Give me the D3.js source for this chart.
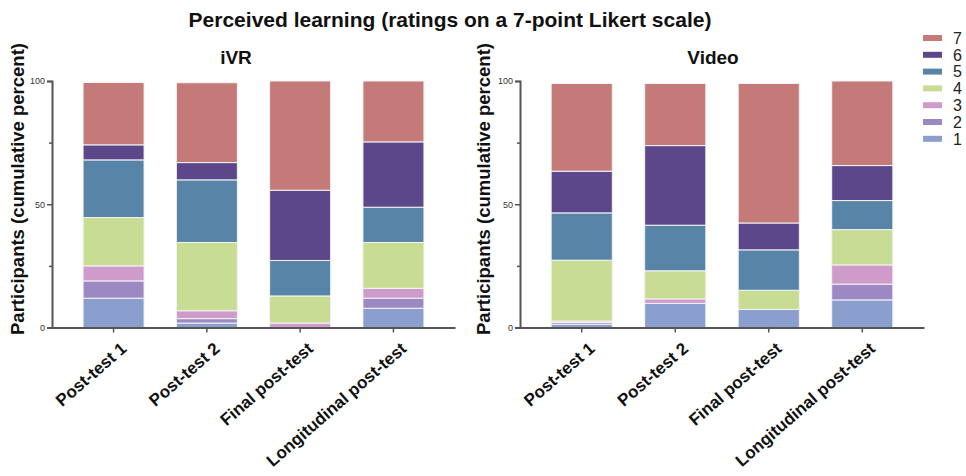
<!DOCTYPE html>
<html><head><meta charset="utf-8">
<script src="https://cdn.jsdelivr.net/npm/d3@7"></script>
<style>
html,body{margin:0;padding:0;background:#fff;}
svg{display:block;font-family:"Liberation Sans",Arial,Helvetica,sans-serif;}
</style></head>
<body>
<svg id="chart" width="966" height="476"></svg>
<script>
const categories = ["Post-test 1", "Post-test 2", "Final post-test", "Longitudinal post-test"];
const ratings = ["1", "2", "3", "4", "5", "6", "7"];
const colors = ["#8a9fcd", "#9c89c4", "#cf9bca", "#c8dc93", "#5884a8", "#5c478b", "#c57a7a"];
// percent of participants per rating (1..7) for each test
const ivrValues = [
  [11.9, 7.0, 6.1, 19.6, 23.4, 6.1, 25.3],
  [1.8, 1.8, 3.2, 27.7, 25.4, 7.0, 32.4],
  [0, 0, 1.8, 11.0, 14.4, 28.5, 44.3],
  [7.8, 4.1, 4.0, 18.6, 14.3, 26.5, 24.7]
];
const videoValues = [
  [1.3, 0.7, 0.6, 24.7, 19.2, 16.9, 35.6],
  [9.8, 0, 1.8, 11.4, 18.5, 32.3, 25.2],
  [7.3, 0, 0, 7.8, 16.4, 10.9, 56.6],
  [11.2, 6.4, 7.8, 14.3, 11.8, 14.2, 34.3]
];
const yTicks = [0, 50, 100];
const yMinorTicks = [25, 75];

const svg = d3.select("#chart");

svg.append("text").attr("x", 450).attr("y", 27).attr("text-anchor", "middle")
  .attr("font-size", 21).attr("font-weight", "bold").attr("fill", "#111")
  .text("Perceived learning (ratings on a 7-point Likert scale)");

function panel(x0, x1, title, titleX, values, labelX) {
  const y = d3.scaleLinear().domain([0, 100]).range([327.5, 81]);
  const x = d3.scaleBand().domain(categories).range([x0, x1]).paddingInner(0.346).paddingOuter(0.333);
  const g = svg.append("g");

  g.append("text").attr("x", titleX).attr("y", 64).attr("text-anchor", "middle")
    .attr("font-size", 19).attr("font-weight", "bold").attr("fill", "#111").text(title);

  g.append("text").attr("transform", `translate(${labelX},189) rotate(-90)`)
    .attr("text-anchor", "middle").attr("font-size", 18.5).attr("font-weight", "bold").attr("fill", "#111")
    .text("Participants (cumulative percent)");

  const rows = categories.map((c, i) => {
    const o = {cat: c};
    ratings.forEach((r, j) => o[r] = values[i][j]);
    return o;
  });
  const stack = d3.stack().keys(ratings)(rows);
  g.selectAll("g.layer").data(stack).join("g").attr("class", "layer")
    .attr("fill", (d, i) => colors[i])
    .selectAll("rect").data(d => d.filter(s => s[1] - s[0] > 0)).join("rect")
    .attr("x", d => x(d.data.cat)).attr("width", x.bandwidth())
    .attr("y", d => y(d[1])).attr("height", d => y(d[0]) - y(d[1]))
    .attr("stroke", "#f4f4f4").attr("stroke-width", 1);

  const ya = g.append("g").attr("transform", `translate(${x0},0)`)
    .call(d3.axisLeft(y).tickValues(yTicks).tickSize(5).tickPadding(2));
  ya.select(".domain").attr("stroke", "#555").attr("stroke-width", 2);
  ya.selectAll(".tick line").attr("stroke", "#555").attr("stroke-width", 1.5);
  ya.selectAll(".tick text").attr("font-size", 9).attr("fill", "#333")
    .attr("font-family", "\"Liberation Sans\",Arial,sans-serif");
  const ym = g.append("g").attr("transform", `translate(${x0},0)`)
    .call(d3.axisLeft(y).tickValues(yMinorTicks).tickSize(3).tickFormat(""));
  ym.select(".domain").remove();
  ym.selectAll(".tick line").attr("stroke", "#555").attr("stroke-width", 1.5);

  const xa = g.append("g").attr("transform", `translate(0,${y(0)})`)
    .call(d3.axisBottom(x).tickSize(5).tickSizeOuter(0).tickPadding(6));
  xa.select(".domain").attr("stroke", "#555").attr("stroke-width", 2);
  xa.selectAll(".tick line").attr("stroke", "#555").attr("stroke-width", 1.5);
  xa.selectAll(".tick text").attr("font-size", 17).attr("font-weight", "bold").attr("fill", "#111")
    .attr("font-family", "\"Liberation Sans\",Arial,sans-serif")
    .attr("text-anchor", "end").attr("dy", "0.35em")
    .attr("transform", "translate(3,10) rotate(-41)");
}

panel(52, 455, "iVR", 236, ivrValues, 24);
panel(520, 924, "Video", 713, videoValues, 490);

// legend
const legend = svg.append("g");
const order = ratings.map((r, i) => i).reverse();
order.forEach((i, k) => {
  const cy = 38 + k * 16.8;
  legend.append("rect").attr("x", 923).attr("y", cy - 3).attr("width", 19).attr("height", 6).attr("fill", colors[i]);
  legend.append("text").attr("x", 953).attr("y", cy).attr("dy", "0.36em")
    .attr("font-size", 16).attr("fill", "#222").text(ratings[i]);
});
</script>
</body></html>
